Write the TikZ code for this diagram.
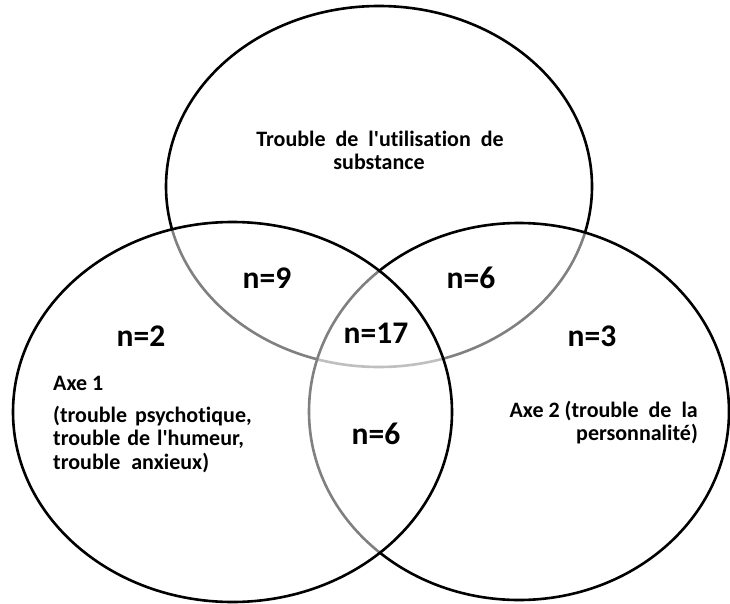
\documentclass[tikz,border=0pt]{standalone}
\usepackage{fontspec}
% Carlito without the TeX ligature mapping, so ' stays a straight apostrophe
\newfontfamily\lab{Carlito}[Ligatures=NoCommon]
% stretched word spaces for the justified lines
\newcommand\widespaces[1][10pt]{\spaceskip=#1\relax}
\begin{document}
\begin{tikzpicture}[x=1pt,y=-1pt,
  setline/.style={line width=2.6pt, draw=black, fill=white, fill opacity=0.5, draw opacity=1},
  small/.style={font=\lab\bfseries\fontsize{22}{23.5}\selectfont, inner sep=0pt},
  count/.style={font=\lab\bfseries\fontsize{31.5}{34}\selectfont, inner sep=0pt, anchor=base}]
\useasboundingbox (0,0) rectangle (730,604);

% Three sets; each later set veils the outline of the earlier ones beneath it
\draw[line width=2.6pt] (379,186.5) ellipse [x radius=213pt, y radius=180.5pt];
\draw[setline] (519,411.5) ellipse [x radius=210pt, y radius=188.5pt];
\draw[setline] (232.5,412) ellipse [x radius=219.5pt, y radius=190pt];

% Set titles
\node[small, anchor=base] (sub1) at (380,147) {\widespaces Trouble de l'utilisation de};
\node[small, anchor=base] (sub2) at (379,169) {substance};

\node[small, anchor=base west] (ax1) at (53,390) {Axe 1};
\node[small, anchor=base west] (ax1a) at (53,422) {\widespaces[8pt](trouble psychotique,};
\node[small, anchor=base west] (ax1b) at (53,445.5) {\widespaces[7pt]trouble de l'humeur,};
\node[small, anchor=base west] (ax1c) at (53,469) {\widespaces[11pt]trouble anxieux)};

\node[small, anchor=base east] (ax2a) at (698,417) {Axe 2 {\widespaces (trouble de la}};
\node[small, anchor=base east] (ax2b) at (698,440) {personnalité)};

% Counts per region
\node[count] (nA) at (141,346) {n=2};
\node[count] (nAS) at (267,288) {n=9};
\node[count] (nSB) at (471,288) {n=6};
\node[count] (nB) at (592,346) {n=3};
\node[count] (nABS) at (376,343) {n=17};
\node[count] (nAB) at (376,444) {n=6};
\end{tikzpicture}
\end{document}
